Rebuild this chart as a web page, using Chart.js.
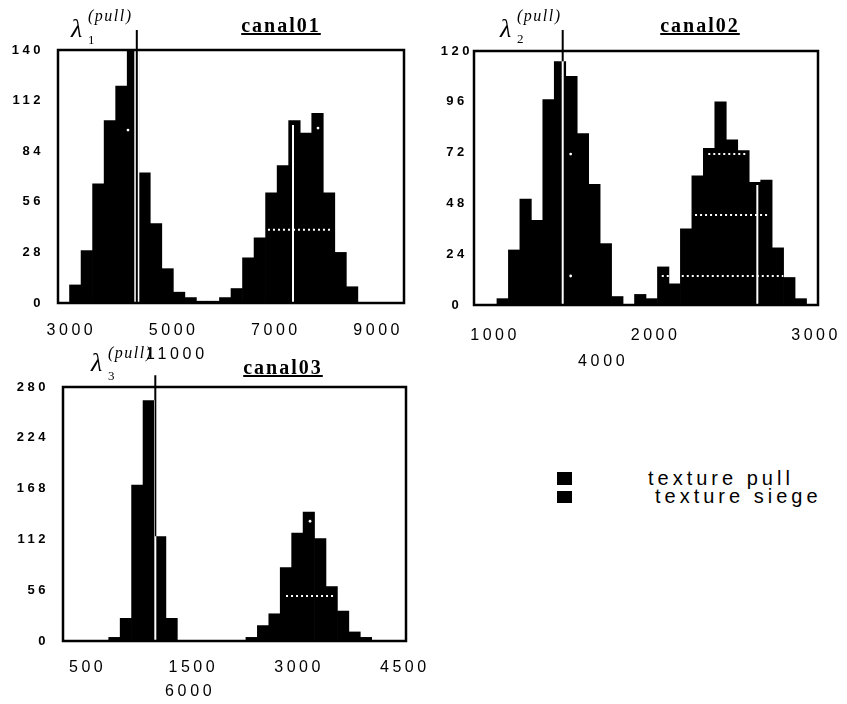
<!DOCTYPE html>
<html>
<head>
<meta charset="utf-8">
<title>canal histograms</title>
<script src="https://cdn.jsdelivr.net/npm/chart.js@4.4.1/dist/chart.umd.min.js"></script>
<style>
  html, body { margin:0; padding:0; background:#fff; }
  body { position:relative; width:847px; height:704px; overflow:hidden; }
  canvas { position:absolute; }
  .t { position:absolute; white-space:nowrap; color:#000; line-height:1; z-index:2; }
  .sans { font-family:"Liberation Sans", Arial, sans-serif; }
  .serif { font-family:"Liberation Serif", "Times New Roman", serif; }
  .title { font-weight:bold; font-size:20px; letter-spacing:2px; text-decoration:underline; text-decoration-thickness:2px; text-underline-offset:1px; text-align:center; width:200px; }
  .lam { font-style:italic; font-size:26px; }
  .sup { font-style:italic; font-size:16px; letter-spacing:1.5px; }
  .sub { font-size:13px; }
  .num { font-size:16px; letter-spacing:3.7px; }
  .leg { font-size:20px; letter-spacing:4px; }
  .sq { position:absolute; background:#000; z-index:2; }
</style>
</head>
<body>
<canvas id="c1" width="420" height="345" style="left:0;top:0"></canvas>
<canvas id="c2" width="427" height="345" style="left:420px;top:0"></canvas>
<canvas id="c3" width="430" height="364" style="left:0;top:340px"></canvas>

<div class="t serif title" style="left:181px;top:15px">canal01</div>
<div class="t serif title" style="left:600px;top:15px">canal02</div>
<div class="t serif title" style="left:183px;top:357px">canal03</div>

<div class="t serif lam" style="left:71px;top:16px">λ</div>
<div class="t serif sup" style="left:88px;top:8px">(pull)</div>
<div class="t serif sub" style="left:88px;top:33px">1</div>

<div class="t serif lam" style="left:500px;top:16px">λ</div>
<div class="t serif sup" style="left:517px;top:8px">(pull)</div>
<div class="t serif sub" style="left:517px;top:32px">2</div>

<div class="t serif lam" style="left:91px;top:350px">λ</div>
<div class="t serif sup" style="left:108px;top:345px">(pull)</div>
<div class="t serif sub" style="left:108px;top:369px">3</div>

<div class="t sans num" style="left:146px;top:346px">11000</div>
<div class="t sans num" style="left:578px;top:353px">4000</div>
<div class="t sans num" style="left:165px;top:683px">6000</div>

<div id="legend"></div>

<script>
// ---------------- data ----------------
const seriesNames = ['texture pull', 'texture siege'];

// canal01
const canal01Bins  = [2850, 3075, 3300, 3525, 3750, 3975, 4200, 4425, 4650, 4875, 5100, 5325, 5550, 5775, 6000,
                      6225, 6450, 6675, 6900, 7125, 7350, 7575, 7800, 8025, 8250, 8475, 8700, 8925, 9150, 9375];
const canal01Pull  = [0, 10, 29, 66, 101, 120, 140, 72, 44, 19, 6, 3, 1, 0, 0,
                      0, 0, 0, 0, 0, 0, 0, 0, 0, 0, 0, 0, 0, 0, 0];
const canal01Siege = [0, 0, 0, 0, 0, 0, 0, 0, 0, 0, 0, 0, 0, 1, 3,
                      8, 25, 36, 61, 76, 101, 94, 105, 61, 28, 9, 0, 0, 0, 0];
const canal01TickLabels = ['3000', '5000', '7000', '9000'];
const canal01YTicks = [0, 28, 56, 84, 112, 140];
const canal01PullLambda  = [4275, 151];
const canal01SiegeLambda = [7322, 98.5];
const canal01Dashed = [[6834, 8102, 40.5]];
const canal01Dots   = [[4103, 95.7], [7810, 96.8]];

// canal02
const canal02Bins  = [880, 952, 1024, 1096, 1168, 1240, 1312, 1384, 1456, 1528, 1600, 1672, 1744, 1816, 1888,
                      1960, 2032, 2104, 2176, 2248, 2320, 2392, 2464, 2536, 2608, 2680, 2752, 2824, 2896, 2968];
const canal02Pull  = [0, 0, 3, 26, 50, 40, 97, 115, 108, 81, 57, 29, 4, 0, 0,
                      0, 0, 0, 0, 0, 0, 0, 0, 0, 0, 0, 0, 0, 0, 0];
const canal02Siege = [0, 0, 0, 0, 0, 0, 0, 0, 0, 0, 0, 0, 0, 0, 5,
                      3, 18, 10, 36, 61, 74, 96, 78, 73, 58, 59, 27, 13, 3, 0];
const canal02TickLabels = ['1000', '2000', '3000'];
const canal02YTicks = [0, 24, 48, 72, 96, 120];
const canal02PullLambda  = [1401, 129.9];
const canal02SiegeLambda = [2623, 56.7];
const canal02Dashed = [[2315, 2566, 71.3], [2232, 2692, 42.5], [2023, 2786, 13.7]];
const canal02Dots   = [[1451, 71.3], [1451, 13.7]];

// canal03
const canal03Bins  = [75, 225, 375, 525, 675, 825, 975, 1125, 1275, 1425, 1575, 1725, 1875, 2025, 2175,
                      2325, 2475, 2625, 2775, 2925, 3075, 3225, 3375, 3525, 3675, 3825, 3975, 4125, 4275, 4425];
const canal03Pull  = [0, 0, 0, 0, 4, 25, 172, 265, 115, 25, 0, 0, 0, 0, 0,
                      0, 0, 0, 0, 0, 0, 0, 0, 0, 0, 0, 0, 0, 0, 0];
const canal03Siege = [0, 0, 0, 0, 0, 0, 0, 0, 0, 0, 0, 0, 0, 0, 0,
                      0, 4, 17, 30, 81, 119, 142, 113, 60, 33, 10, 4, 0, 0, 0];
const canal03TickLabels = ['500', '1500', '3000', '4500'];
const canal03YTicks = [0, 56, 112, 168, 224, 280];
const canal03PullLambda  = [1211, 293];
const canal03SiegeLambda = null;
const canal03Dashed = [[2926, 3559, 49.7]];
const canal03Dots   = [[3241, 132]];

// ---------------- drawing ----------------
const SANS = '"Liberation Sans", Arial, sans-serif';

const framePlugin = {
  id: 'frame',
  beforeLayout(chart) { chart.ctx.letterSpacing = '3.5px'; },
  beforeDraw(chart) {
    const c = chart.ctx;
    c.save();
    c.fillStyle = '#fff';
    c.fillRect(0, 0, chart.width, chart.height);
    c.restore();
    c.letterSpacing = '3.5px';
  },
  beforeDatasetDraw(chart, args) {
    const ds = chart.data.datasets[args.index];
    if (ds.xor) { chart.ctx.save(); chart.ctx.globalCompositeOperation = 'difference'; }
  },
  afterDatasetDraw(chart, args) {
    const ds = chart.data.datasets[args.index];
    if (ds.xor) chart.ctx.restore();
  },
  afterDatasetsDraw(chart) {
    const {ctx, chartArea: a} = chart;
    ctx.save();
    ctx.strokeStyle = '#000';
    ctx.lineWidth = 2.5;
    ctx.strokeRect(a.left, a.top, a.right - a.left, a.bottom - a.top);
    ctx.restore();
  }
};

function barSet(label, bins, counts) {
  return {
    type: 'bar', label,
    data: bins.map((b, i) => ({x: b, y: counts[i]})),
    backgroundColor: '#000', borderWidth: 0,
    barPercentage: 1, categoryPercentage: 1, grouped: false,
    order: 3, xAxisID: 'x', yAxisID: 'y'
  };
}
function lineSet(points, color, width, extra) {
  return Object.assign({
    type: 'line', data: points, borderColor: color, backgroundColor: color,
    borderWidth: width, pointRadius: 0, fill: false, tension: 0,
    order: 1, xAxisID: 'x', yAxisID: 'y'
  }, extra || {});
}

function makePanel(P) {
  const ds = [
    barSet(seriesNames[0], P.bins, P.pull),
    barSet(seriesNames[1], P.bins, P.siege)
  ];
  const lx = P.pullLambda[0], ltop = P.pullLambda[1];
  if (P.halo) {
    ds.push(lineSet([{x: lx, y: 0}, {x: lx, y: P.yTicks[P.yTicks.length - 1]}], '#fff', 5, {order: 2}));
    ds.push(lineSet([{x: lx, y: 0}, {x: lx, y: ltop}], '#000', 2, {clip: false, order: 1}));
  } else {
    ds.push(lineSet([{x: lx, y: 0}, {x: lx, y: ltop}], '#fff', 2, {clip: false, order: 1, xor: true}));
  }
  if (P.siegeLambda) {
    ds.push(lineSet([{x: P.siegeLambda[0], y: 0}, {x: P.siegeLambda[0], y: P.siegeLambda[1]}], '#fff', 2, {order: 1}));
  }
  P.dashed.forEach(d => {
    ds.push(lineSet([{x: d[0], y: d[2]}, {x: d[1], y: d[2]}], '#fff', 2, {borderDash: [2, 3], order: 1}));
  });
  ds.push(lineSet(P.dots.map(d => ({x: d[0], y: d[1]})), '#fff', 0,
    {showLine: false, pointRadius: 1.4, pointBorderWidth: 0, pointBackgroundColor: '#fff', order: 0}));

  new Chart(document.getElementById(P.canvas), {
    type: 'bar',
    data: {datasets: ds},
    plugins: [framePlugin],
    options: {
      responsive: false, animation: false, devicePixelRatio: 1, events: [],
      layout: {padding: P.pad},
      plugins: {legend: {display: false}, tooltip: {enabled: false}, title: {display: false}},
      scales: {
        x: {
          type: 'linear', display: false, offset: false, min: P.xMin, max: P.xMax,
          afterBuildTicks: s => { s.ticks = []; }
        },
        xt: {
          type: 'linear', position: 'bottom', offset: false, min: P.tMin, max: P.tMax,
          grid: {display: false, drawTicks: false}, border: {display: false},
          afterBuildTicks: s => { s.ticks = P.tickLabels.map((_, i) => ({value: i})); },
          ticks: {
            autoSkip: false, maxRotation: 0, minRotation: 0, padding: P.xPad, color: '#000',
            font: {family: SANS, size: 16},
            callback: (v, i) => P.tickLabels[i]
          },
          afterFit: s => { s.height = P.xH; s.paddingLeft = 0; s.paddingRight = 0; }
        },
        y: {
          type: 'linear', position: 'left', min: 0, max: P.yTicks[P.yTicks.length - 1],
          grid: {display: false, drawTicks: false}, border: {display: false},
          afterBuildTicks: s => { s.ticks = P.yTicks.map(v => ({value: v})); },
          ticks: {padding: P.yPad, crossAlign: P.yAlign, color: '#000',
                  font: {family: SANS, size: 13, weight: 'bold'}},
          afterFit: s => { s.width = P.yW; s.paddingTop = 0; s.paddingBottom = 0; }
        }
      }
    }
  });
}

makePanel({
  canvas: 'c1', bins: canal01Bins, pull: canal01Pull, siege: canal01Siege,
  tickLabels: canal01TickLabels, yTicks: canal01YTicks,
  pullLambda: canal01PullLambda, siegeLambda: canal01SiegeLambda, halo: true,
  dashed: canal01Dashed, dots: canal01Dots,
  xMin: 2737.5, xMax: 9487.5, tMin: -0.131, tMax: 3.253,
  pad: {top: 50, right: 16, left: 0, bottom: 0}, yW: 58, xH: 42, yPad: 14, xPad: 18.4, yAlign: 'near'
});
makePanel({
  canvas: 'c2', bins: canal02Bins, pull: canal02Pull, siege: canal02Siege,
  tickLabels: canal02TickLabels, yTicks: canal02YTicks,
  pullLambda: canal02PullLambda, siegeLambda: canal02SiegeLambda, halo: false,
  dashed: canal02Dashed, dots: canal02Dots,
  xMin: 844, xMax: 3004, tMin: -0.131, tMax: 2.012,
  pad: {top: 51, right: 29, left: 0, bottom: 0}, yW: 54, xH: 40, yPad: 1, xPad: 21.4, yAlign: 'center'
});
makePanel({
  canvas: 'c3', bins: canal03Bins, pull: canal03Pull, siege: canal03Siege,
  tickLabels: canal03TickLabels, yTicks: canal03YTicks,
  pullLambda: canal03PullLambda, siegeLambda: canal03SiegeLambda, halo: false,
  dashed: canal03Dashed, dots: canal03Dots,
  xMin: 0, xMax: 4500, tMin: -0.233, tMax: 3.011,
  pad: {top: 47, right: 24, left: 0, bottom: 0}, yW: 63, xH: 63, yPad: 14, xPad: 17.4, yAlign: 'near'
});

// legend (HTML, from series names)
const leg = document.getElementById('legend');
const legRows = [{sq: [557, 472, 15, 13], txt: [648, 468]}, {sq: [557, 491, 15, 12], txt: [655, 486]}];
seriesNames.forEach((name, i) => {
  const r = legRows[i];
  const s = document.createElement('div');
  s.className = 'sq';
  s.style.cssText = `left:${r.sq[0]}px;top:${r.sq[1]}px;width:${r.sq[2]}px;height:${r.sq[3]}px`;
  leg.appendChild(s);
  const t = document.createElement('div');
  t.className = 't sans leg';
  t.style.cssText = `left:${r.txt[0]}px;top:${r.txt[1]}px`;
  t.textContent = name;
  leg.appendChild(t);
});
</script>
</body>
</html>
